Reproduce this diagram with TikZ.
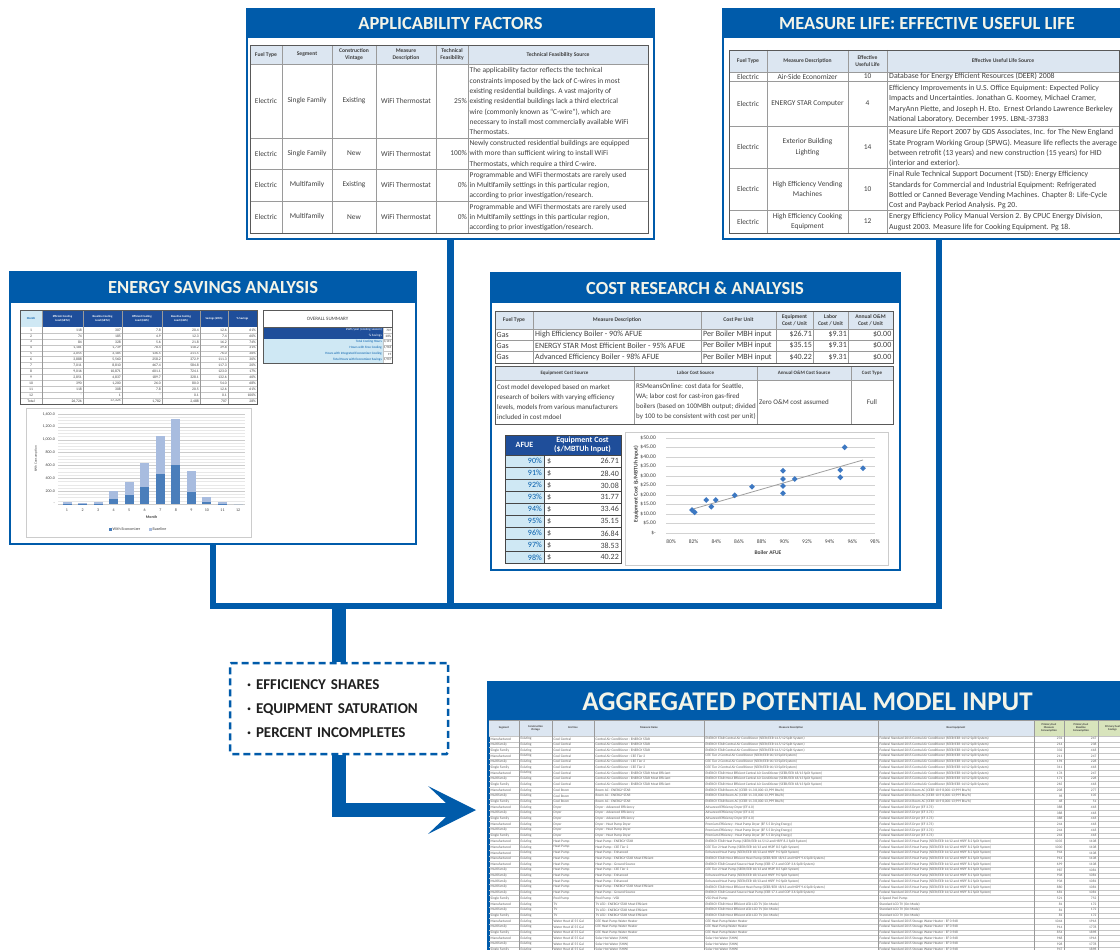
\documentclass[tikz,border=0pt]{standalone}
\usepackage{fontspec}
\setmainfont{Carlito}
\usetikzlibrary{calc,shapes.geometric}
\definecolor{mainblue}{HTML}{005BAA}
\definecolor{hdrlight}{HTML}{DCE6F1}
\definecolor{cellblue}{HTML}{1F4E9A}
\definecolor{cellcyan}{HTML}{CFE8F4}
\definecolor{hdrgreen}{HTML}{D8E4BC}
\definecolor{titlecream}{HTML}{F4F4E8}
\definecolor{gridgray}{HTML}{9A9A9A}
\definecolor{txtgray}{HTML}{404040}
\definecolor{bardark}{HTML}{4A7EBB}
\definecolor{barlight}{HTML}{A8BCDF}
\definecolor{ptblue}{HTML}{3D78C2}
\newcommand\fs[2]{\fontsize{#1}{#2}\selectfont}
\tikzset{
  panel/.style={draw=mainblue, line width=2pt, fill=white, inner sep=0pt, anchor=north west},
  ptitle/.style={text=titlecream, font=\fs{18.5}{20}\bfseries, inner sep=0pt},
  conn/.style={draw=mainblue, line width=6.5pt, line join=miter},
  bigconn/.style={draw=mainblue, line width=14pt, line join=miter},
  tgrid/.style={draw=gridgray, line width=0.5pt},
  tlight/.style={draw=gray!45, line width=0.35pt},
  tframe/.style={draw=gray!70!black, line width=0.8pt},
  hdr/.style={font=\fs{5.6}{6.6}\bfseries, text=txtgray, align=center, inner sep=0pt},
  body/.style={font=\fs{7.4}{10.3}, text=txtgray, inner sep=0pt, align=left},
  bodyc/.style={body, align=center},
  mlbody/.style={body, font=\fs{7.8}{10.3}},
  dbox/.style={draw=mainblue, line width=2.5pt, dash pattern=on 7pt off 4pt, fill=white, rounded corners=1.5pt, minimum height=91pt, inner xsep=17pt, inner ysep=0pt, text width=184pt, align=left, font=\fs{15}{24}\bfseries, text=black!88},
  eshdr/.style={font=\fs{2.9}{3.4}\bfseries, text=white, align=center, inner sep=0pt},
  escell/.style={font=\fs{3.7}{4}, text=txtgray, inner sep=0pt},
  gcell/.style={font=\fs{3.5}{4}, text=txtgray!85, inner sep=0pt},
  ghdr/.style={font=\fs{2.8}{3.2}\bfseries, text=txtgray, align=center, inner sep=0pt},
  axl/.style={font=\fs{5.5}{6}, text=txtgray, inner sep=0pt},
  esaxl/.style={font=\fs{4}{4.5}, text=txtgray, inner sep=0pt},
  cpmark/.style={diamond, fill=ptblue, inner sep=0pt, minimum size=6pt},
}
\newcommand\aggrow[8]{%
  \pgfmathsetmacro\ay{736+(#1-0.5)*5.7}%
  \node[gcell, anchor=west] (g#1a) at (490.5,\ay) {#2};
  \node[gcell, anchor=west] (g#1b) at (520.5,\ay) {Existing};
  \node[gcell, anchor=west] (g#1c) at (553.5,\ay) {#3};
  \node[gcell, anchor=west] (g#1d) at (595.5,\ay) {#4};
  \node[gcell, anchor=west] (g#1e) at (705.5,\ay) {#5};
  \node[gcell, anchor=west] (g#1f) at (879.5,\ay) {#6};
  \node[gcell, anchor=east] (g#1g) at (1062.5,\ay) {#7};
  \node[gcell, anchor=east] (g#1h) at (1096.5,\ay) {#8};
}
\begin{document}
\begin{tikzpicture}[x=1pt,y=-1pt]
\useasboundingbox (0,0) rectangle (1120,950);
\fill[white] (0,0) rectangle (1120,950);

% ================= APPLICABILITY FACTORS =================
\node[panel, minimum width=407pt, minimum height=230pt] (app) at (246,8) {};
\fill[mainblue] (app.north west) rectangle ($(app.north east)+(0,30)$);
\node[ptitle] (appt) at ($(app.north)+(0,15.5)$) {APPLICABILITY FACTORS};
\fill[hdrlight] (250,45) rectangle (648,64);
\foreach \x in {282,332,376,436,468} \draw[tgrid] (\x,45) -- (\x,233);
\foreach \y in {64,138,169,201} \draw[tgrid] (250,\y) -- (648,\y);
\draw[tframe] (250,45) rectangle (648,233);
\node[hdr] (ah1) at (266,54.5) {Fuel Type};
\node[hdr] (ah2) at (307,54.5) {Segment};
\node[hdr] (ah3) at (354,54.5) {Construction\\Vintage};
\node[hdr] (ah4) at (406,54.5) {Measure\\Description};
\node[hdr] (ah5) at (452,54.5) {Technical\\Feasibility};
\node[hdr] (ah6) at (558,54.5) {Technical Feasibility Source};
\foreach \r/\y/\s/\v/\p in {1/101/Single Family/Existing/25\%, 2/153.5/Single Family/New/100\%, 3/185/Multifamily/Existing/0\%, 4/217/Multifamily/New/0\%}{
  \node[body] (a\r-1) at (266,\y) {Electric};
  \node[body] (a\r-2) at (307,\y) {\s};
  \node[body] (a\r-3) at (354,\y) {\v};
  \node[body] (a\r-4) at (406,\y) {WiFi Thermostat};
  \node[body, anchor=east] (a\r-5) at (467,\y) {\p};
}
\node[body, anchor=west] (a1-6) at (469.5,101.3) {The applicability factor reflects the technical\\constraints imposed by the lack of C-wires in most\\existing residential buildings. A vast majority of\\existing residential buildings lack a third electrical\\wire (commonly known as ``C-wire''), which are\\necessary to install most commercially available WiFi\\Thermostats.};
\node[body, anchor=west] (a2-6) at (469.5,154) {Newly constructed residential buildings are equipped\\with more than sufficient wiring to install WiFi\\Thermostats, which require a third C-wire.};
\node[body, anchor=west] (a3-6) at (469.5,185.5) {Programmable and WiFi thermostats are rarely used\\in Multifamily settings in this particular region,\\according to prior investigation/research.};
\node[body, anchor=west] (a4-6) at (469.5,217.5) {Programmable and WiFi thermostats are rarely used\\in Multifamily settings in this particular region,\\according to prior investigation/research.};

% ================= MEASURE LIFE =================
\node[panel, minimum width=432pt, minimum height=230pt] (mlf) at (722,8) {};
\fill[mainblue] (mlf.north west) rectangle ($(mlf.north east)+(0,30)$);
\node[ptitle] (mlft) at (927,23.5) {MEASURE LIFE: EFFECTIVE USEFUL LIFE};
\fill[hdrlight] (729,50) rectangle (1119,72);
\foreach \x in {767,848,887} \draw[tgrid] (\x,50) -- (\x,233);
\foreach \y in {72,81,126,168,210} \draw[tgrid] (729,\y) -- (1119,\y);
\draw[tframe] (729,50) rectangle (1119,233);
\node[hdr] (mh1) at (748,61) {Fuel Type};
\node[hdr] (mh2) at (807.5,61) {Measure Description};
\node[hdr] (mh3) at (867.5,61) {Effective\\Useful Life};
\node[hdr] (mh4) at (1003,61) {Effective Useful Life Source};
\foreach \r/\y/\d/\n in {1/76.5/{Air-Side Economizer}/10, 2/103.5/{ENERGY STAR Computer}/4, 3/147/{Exterior Building\\Lighting}/14, 4/189/{High Efficiency Vending\\Machines}/10, 5/221.5/{High Efficiency Cooking\\Equipment}/12}{
  \node[body] (m\r-1) at (748,\y) {Electric};
  \node[bodyc] (m\r-2) at (807.5,\y) {\d};
  \node[body] (m\r-3) at (867.5,\y) {\n};
}
\node[mlbody, anchor=west] (m1-4) at (889,76.5) {Database for Energy Efficient Resources (DEER) 2008};
\node[mlbody, anchor=west] (m2-4) at (889,104) {Efficiency Improvements in U.S. Office Equipment: Expected Policy\\Impacts and Uncertainties. Jonathan G. Koomey, Michael Cramer,\\MaryAnn Piette, and Joseph H. Eto.\ \ Ernest Orlando Lawrence Berkeley\\National Laboratory. December 1995. LBNL-37383};
\node[mlbody, anchor=west] (m3-4) at (889,148) {Measure Life Report 2007 by GDS Associates, Inc. for The New England\\State Program Working Group (SPWG). Measure life reflects the average\\between retrofit (13 years) and new construction (15 years) for HID\\(interior and exterior).};
\node[mlbody, anchor=west] (m4-4) at (889,190) {Final Rule Technical Support Document (TSD): Energy Efficiency\\Standards for Commercial and Industrial Equipment: Refrigerated\\Bottled or Canned Beverage Vending Machines. Chapter 8: Life-Cycle\\Cost and Payback Period Analysis. Pg 20.};
\node[mlbody, anchor=west] (m5-4) at (889,222) {Energy Efficiency Policy Manual Version 2. By CPUC Energy Division,\\August 2003. Measure life for Cooking Equipment. Pg 18.};

% ================= ENERGY SAVINGS ANALYSIS =================
\node[panel, minimum width=406pt, minimum height=272pt] (es) at (9,271) {};
\fill[mainblue] (es.north west) rectangle ($(es.north east)+(0,32)$);
\node[ptitle] (est) at (213,287.5) {ENERGY SAVINGS ANALYSIS};
\fill[cellcyan] (20,310) rectangle (42,327);
\fill[cellblue] (42,310) rectangle (257,327);
\node[eshdr, text=mainblue] (esh1) at (31,318.5) {Month};
\foreach \i/\x/\t in {2/62.5/{Efficient Cooling\\Load (kBTU)}, 3/102.5/{Baseline Cooling\\Load (kBTU)}, 4/142/{Efficient Cooling\\Load (kWh)}, 5/181/{Baseline Cooling\\Load (kWh)}, 6/214/{Savings (kWh)}, 7/242.5/{\% Savings}}
  \node[eshdr] (esh\i) at (\x,318.5) {\t};
\foreach \r/\m/\a/\b/\c/\d/\e/\f in {1/1/118/307/7.8/20.4/12.6/61\%, 2/2/74/185/4.9/12.3/7.4/60\%, 3/3/84/328/5.6/21.8/16.2/74\%, 4/4/{1,181}/{1,739}/78.4/118.2/39.8/31\%, 5/5/{2,055}/{3,185}/136.5/211.5/76.0/36\%, 6/6/{3,888}/{5,560}/258.2/372.9/111.3/30\%, 7/7/{7,011}/{8,810}/467.4/584.8/117.3/20\%, 8/8/{9,016}/{10,871}/601.1/724.1/123.0/17\%, 9/9/{2,851}/{4,837}/189.7/328.1/132.6/40\%, 10/10/390/{1,200}/26.0/80.0/54.0/68\%, 11/11/118/308/7.8/20.5/12.6/61\%, 12/12/-/1/-/0.1/0.1/100\%, 13/Total/{26,726}/{37,325}/{1,782}/{2,488}/707/28\%}{
  \pgfmathsetmacro\ey{327+(\r-0.5)*5.92}
  \node[escell] (es\r-m) at (31,\ey) {\m};
  \node[escell, anchor=east] (es\r-a) at (82,\ey) {\a};
  \node[escell, anchor=east] (es\r-b) at (121,\ey) {\b};
  \node[escell, anchor=east] (es\r-c) at (161,\ey) {\c};
  \node[escell, anchor=east] (es\r-d) at (199,\ey) {\d};
  \node[escell, anchor=east] (es\r-e) at (227,\ey) {\e};
  \node[escell, anchor=east] (es\r-f) at (256,\ey) {\f};
}
\foreach \k in {1,...,12} \draw[tlight] (20,{327+\k*5.92}) -- (257,{327+\k*5.92});
\foreach \x in {42,83,122,162,200,228} \draw[tgrid] (\x,310) -- (\x,404);
\draw[tframe] (20,310) rectangle (257,404);
% overall summary
\draw[tframe, fill=white] (263,310) rectangle (392,327);
\node[font=\fs{5}{6}, text=txtgray] (ost) at (327.5,318.5) {OVERALL SUMMARY};
\foreach \k/\t/\v/\fc/\tc in {1/{kWh/year (cooling season)}/707/cellblue/white, 2/{\% Savings}/28\%/cellblue/white, 3/{Total Cooling Hours}/{3,115}/cellcyan/mainblue, 4/{Hours with Free Cooling}/{1,918}/cellcyan/mainblue, 5/{Hours with Integrated Economizer Cooling}/19/cellcyan/mainblue, 6/{Total Hours with Economizer Savings}/{1,937}/cellcyan/mainblue}{
  \pgfmathsetmacro\oy{327+(\k-1)*6}
  \fill[\fc] (263,\oy) rectangle (383,{\oy+6});
  \draw[tlight, fill=white] (383,\oy) rectangle (392,{\oy+6});
  \node[font=\fs{3.3}{4}, text=\tc, anchor=east, inner sep=0pt] (os\k-a) at (382,{\oy+3}) {\t};
  \node[font=\fs{3.3}{4}, text=txtgray, anchor=east, inner sep=0pt] (os\k-b) at (391.5,{\oy+3}) {\v};
}
\draw[tframe] (263,327) rectangle (392,363);
% chart
\draw[gray!40, line width=0.8pt, fill=white] (26,408) rectangle (251,537);
\foreach \v in {0,50,...,1400} \draw[gray!18, line width=0.3pt] (58,{504-\v*0.0643}) -- (245,{504-\v*0.0643});
\foreach \v in {0,200,...,1400} \draw[gray!40, line width=0.4pt] (58,{504-\v*0.0643}) -- (245,{504-\v*0.0643});
\foreach \v/\t in {1400/{1,400.0},1200/{1,200.0},1000/{1,000.0},800/800.0,600/600.0,400/400.0,200/200.0,0/-}
  \node[esaxl, anchor=east] (ey\v) at (55,{504-\v*0.0643}) {\t};
\node[esaxl, rotate=90, font=\fs{3.4}{4}] (eyt) at (36,459) {kWh Consumption};
\foreach \i/\e/\b in {1/7.8/20.4, 2/4.9/12.3, 3/5.6/21.8, 4/78.4/118.2, 5/136.5/211.5, 6/258.2/372.9, 7/467.4/584.8, 8/601.1/724.1, 9/189.7/328.1, 10/26.0/80.0, 11/7.8/20.5, 12/0/0.1}{
  \pgfmathsetmacro\bx{67+(\i-1)*15.55}
  \fill[bardark] ({\bx-4.5},504) rectangle ({\bx+4.5},{504-\e*0.0643});
  \fill[barlight] ({\bx-4.5},{504-\e*0.0643}) rectangle ({\bx+4.5},{504-(\e+\b)*0.0643});
  \node[esaxl] (ex\i) at (\bx,510) {\i};
}
\node[esaxl, font=\fs{4}{4.5}\bfseries] (ext) at (151.5,517) {Month};
\fill[bardark] (108.5,527.5) rectangle ++(3,3);
\node[esaxl, anchor=west] (lg1) at (112.5,529) {With Economizer};
\fill[barlight] (148.5,527.5) rectangle ++(3,3);
\node[esaxl, anchor=west] (lg2) at (152.5,529) {Baseline};

% ================= COST RESEARCH =================
\node[panel, minimum width=409pt, minimum height=297pt] (cost) at (490,272) {};
\fill[mainblue] (cost.north west) rectangle ($(cost.north east)+(0,31)$);
\node[ptitle] (costt) at (695,288) {COST RESEARCH \& ANALYSIS};
\fill[hdrlight] (495,311) rectangle (893,329);
\foreach \x in {533,701,776,813,848} \draw[tgrid] (\x,311) -- (\x,363);
\foreach \y in {329,340,351} \draw[tgrid] (495,\y) -- (893,\y);
\draw[tframe] (495,311) rectangle (893,363);
\node[hdr] (ch1) at (514,320) {Fuel Type};
\node[hdr] (ch2) at (617,320) {Measure Description};
\node[hdr] (ch3) at (738.5,320) {Cost Per Unit};
\node[hdr] (ch4) at (794.5,320) {Equipment\\Cost / Unit};
\node[hdr] (ch5) at (830.5,320) {Labor\\Cost / Unit};
\node[hdr] (ch6) at (870.5,320) {Annual O\&M\\Cost / Unit};
\foreach \r/\y/\d/\e in {1/334.5/{High Efficiency Boiler - 90\% AFUE}/{\$26.71}, 2/345.5/{ENERGY STAR Most Efficient Boiler - 95\% AFUE}/{\$35.15}, 3/357/{Advanced Efficiency Boiler - 98\% AFUE}/{\$40.22}}{
  \node[body, font=\fs{8}{9}, anchor=west] (c\r-1) at (496.5,\y) {Gas};
  \node[body, font=\fs{8}{9}, anchor=west] (c\r-2) at (535,\y) {\d};
  \node[body, font=\fs{8}{9}, anchor=west] (c\r-3) at (703,\y) {Per Boiler MBH input};
  \node[body, font=\fs{8}{9}, anchor=east] (c\r-4) at (812,\y) {\e};
  \node[body, font=\fs{8}{9}, anchor=east] (c\r-5) at (847,\y) {\$9.31};
  \node[body, font=\fs{8}{9}, anchor=east] (c\r-6) at (891.5,\y) {\$0.00};
}
\fill[hdrlight] (495,366) rectangle (893,380);
\foreach \x in {634,757,851} \draw[tgrid] (\x,366) -- (\x,424);
\draw[tgrid] (495,380) -- (893,380);
\draw[tframe] (495,366) rectangle (893,424);
\node[hdr, font=\fs{5}{6}\bfseries] (cs1) at (564.5,373) {Equipment Cost Source};
\node[hdr, font=\fs{5}{6}\bfseries] (cs2) at (695.5,373) {Labor Cost Source};
\node[hdr, font=\fs{5}{6}\bfseries] (cs3) at (804,373) {Annual O\&M Cost Source};
\node[hdr, font=\fs{5}{6}\bfseries] (cs4) at (872,373) {Cost Type};
\node[body, font=\fs{7}{10}, anchor=west] (cb1) at (497,402) {Cost model developed based on market\\research of boilers with varying efficiency\\levels, models from various manufacturers\\included in cost mdoel};
\node[body, font=\fs{7}{10}, anchor=west] (cb2) at (636,402) {RSMeansOnline: cost data for Seattle,\\WA; labor cost for cast-iron gas-fired\\boilers (based on 100MBh output; divided\\by 100 to be consistent with cost per unit)};
\node[body, font=\fs{7}{10}, anchor=west] (cb3) at (759,402) {Zero O\&M cost assumed};
\node[body, font=\fs{7}{10}] (cb4) at (872,402) {Full};
% AFUE table
\fill[cellblue] (505,435) rectangle (621,455);
\node[font=\fs{8}{9}\bfseries, text=white, inner sep=0pt] (afh1) at (524.5,445) {AFUE};
\node[font=\fs{8}{9.5}\bfseries, text=white, align=center, inner sep=0pt] (afh2) at (582.5,445) {Equipment Cost\\(\$/MBTUh Input)};
\foreach \r/\p/\v in {1/90/26.71, 2/91/28.40, 3/92/30.08, 4/93/31.77, 5/94/33.46, 6/95/35.15, 7/96/36.84, 8/97/38.53, 9/98/40.22}{
  \pgfmathsetmacro\ty{455+(\r-1)*12}
  \fill[cellcyan] (505,\ty) rectangle (544,{\ty+12});
  \draw[draw=gray!55!black, line width=0.9pt] (505,\ty) rectangle (621,{\ty+12});
  \draw[draw=gray!55!black, line width=0.5pt] (544,\ty) -- (544,{\ty+12});
  \node[font=\fs{8}{9}, text=mainblue, anchor=east, inner sep=0pt] (af\r-a) at (542,{\ty+6.3}) {\p\%};
  \node[font=\fs{8}{9}, text=txtgray, anchor=west, inner sep=0pt] (af\r-b) at (547,{\ty+6.3}) {\$};
  \node[font=\fs{8}{9}, text=txtgray, anchor=east, inner sep=0pt] (af\r-c) at (619,{\ty+6.3}) {\v};
}
\draw[draw=gray!55!black, line width=0.9pt] (505,435) rectangle (621,563);
% scatter chart
\draw[gray!40, line width=0.8pt, fill=white] (625,432) rectangle (888,565);
\foreach \v in {0,5,...,50} \draw[gray!35, line width=0.4pt] (666,{533-\v*1.9}) -- (875,{533-\v*1.9});
\foreach \v/\t in {50/{\$50.00},45/{\$45.00},40/{\$40.00},35/{\$35.00},30/{\$30.00},25/{\$25.00},20/{\$20.00},15/{\$15.00},10/{\$10.00},5/{\$5.00},0/{\$-}}
  \node[axl, anchor=east] (cy\v) at (656,{533-\v*1.9}) {\t};
\foreach \p in {80,82,...,98}
  \node[axl] (cx\p) at ({671+(\p-80)*11.33},542) {\p\%};
\node[axl, font=\fs{5.5}{6}\bfseries, rotate=90] (cyt) at (636,484) {Equipment Cost (\$/MBTUh Input)};
\node[axl, font=\fs{5.5}{6}\bfseries] (cxt) at (768,552.5) {Boiler AFUE};
\draw[gray!75, line width=0.8pt] (692,509.3) -- (863,460);
\foreach \px/\py [count=\n] in {692/510, 694.7/512.3, 706.3/500, 711.3/506.7, 715.7/500, 734.7/495.3, 752/486.7, 783/470.7, 783/479, 783/486, 783/493.3, 794.7/479, 840.3/470, 840.3/477.3, 844.7/447.3, 863/468.3}
  \node[cpmark] (cp\n) at (\px,\py) {};

% ================= AGGREGATED POTENTIAL MODEL INPUT =================
\node[panel, minimum width=639pt, minimum height=290pt] (agg) at (488,681) {};
\fill[mainblue] (agg.north west) rectangle ($(agg.north east)+(0,39)$);
\node[ptitle, font=\fs{27}{28}\bfseries] (aggt) at (807.5,701.5) {AGGREGATED POTENTIAL MODEL INPUT};
\fill[hdrlight] (489,720) rectangle (1034,736);
\fill[hdrgreen] (1034,720) rectangle (1127,736);
\foreach \k in {0,...,39} \draw[tlight] (489,{736+\k*5.7}) -- (1127,{736+\k*5.7});
\foreach \x in {519,552,594,704,878,1034,1064,1098} \draw[tgrid] (\x,720) -- (\x,970);
\draw[tgrid] (489,720) -- (1127,720);
\node[ghdr] (gh1) at (504,728) {Segment};
\node[ghdr] (gh2) at (535.5,728) {Construction\\Vintage};
\node[ghdr] (gh3) at (573,728) {End Use};
\node[ghdr] (gh4) at (649,728) {Measure Name};
\node[ghdr] (gh5) at (791,728) {Measure Description};
\node[ghdr] (gh6) at (956,728) {Base Equipment};
\node[ghdr] (gh7) at (1049,728) {Primary Fuel\\Measure\\Consumption};
\node[ghdr] (gh8) at (1081,728) {Primary Fuel\\Baseline\\Consumption};
\node[ghdr] (gh9) at (1112.5,728) {Primary Fuel\\Savings};
\aggrow{1}{Manufactured}{Cool Central}{Central Air Conditioner - ENERGY STAR}{ENERGY STAR Central Air Conditioner (SEER/EER 14.5/12 Split System)}{Federal Standard 2015 Central Air Conditioner (SEER/EER 14/12 Split System)}{231}{247}
\aggrow{2}{Multifamily}{Cool Central}{Central Air Conditioner - ENERGY STAR}{ENERGY STAR Central Air Conditioner (SEER/EER 14.5/12 Split System)}{Federal Standard 2015 Central Air Conditioner (SEER/EER 14/12 Split System)}{214}{238}
\aggrow{3}{Single Family}{Cool Central}{Central Air Conditioner - ENERGY STAR}{ENERGY STAR Central Air Conditioner (SEER/EER 14.5/12 Split System)}{Federal Standard 2015 Central Air Conditioner (SEER/EER 14/12 Split System)}{332}{418}
\aggrow{4}{Manufactured}{Cool Central}{Central Air Conditioner - CEE Tier 2}{CEE Tier 2 Central Air Conditioner (SEER/EER 16/13 Split System)}{Federal Standard 2015 Central Air Conditioner (SEER/EER 14/12 Split System)}{211}{247}
\aggrow{5}{Multifamily}{Cool Central}{Central Air Conditioner - CEE Tier 2}{CEE Tier 2 Central Air Conditioner (SEER/EER 16/13 Split System)}{Federal Standard 2015 Central Air Conditioner (SEER/EER 14/12 Split System)}{194}{228}
\aggrow{6}{Single Family}{Cool Central}{Central Air Conditioner - CEE Tier 2}{CEE Tier 2 Central Air Conditioner (SEER/EER 16/13 Split System)}{Federal Standard 2015 Central Air Conditioner (SEER/EER 14/12 Split System)}{311}{418}
\aggrow{7}{Manufactured}{Cool Central}{Central Air Conditioner - ENERGY STAR Most Efficient}{ENERGY STAR Most Efficient Central Air Conditioner (SEER/EER 18/13 Split System)}{Federal Standard 2015 Central Air Conditioner (SEER/EER 14/12 Split System)}{176}{247}
\aggrow{8}{Multifamily}{Cool Central}{Central Air Conditioner - ENERGY STAR Most Efficient}{ENERGY STAR Most Efficient Central Air Conditioner (SEER/EER 18/13 Split System)}{Federal Standard 2015 Central Air Conditioner (SEER/EER 14/12 Split System)}{171}{228}
\aggrow{9}{Single Family}{Cool Central}{Central Air Conditioner - ENERGY STAR Most Efficient}{ENERGY STAR Most Efficient Central Air Conditioner (SEER/EER 18/13 Split System)}{Federal Standard 2015 Central Air Conditioner (SEER/EER 14/12 Split System)}{265}{418}
\aggrow{10}{Manufactured}{Cool Room}{Room AC - ENERGY STAR}{ENERGY STAR Room AC (CEER 11.3 8,000-13,999 Btu/h)}{Federal Standard 2014 Room AC (CEER 10.9 8,000-13,999 Btu/h)}{208}{277}
\aggrow{11}{Multifamily}{Cool Room}{Room AC - ENERGY STAR}{ENERGY STAR Room AC (CEER 11.3 8,000-13,999 Btu/h)}{Federal Standard 2014 Room AC (CEER 10.9 8,000-13,999 Btu/h)}{98}{105}
\aggrow{12}{Single Family}{Cool Room}{Room AC - ENERGY STAR}{ENERGY STAR Room AC (CEER 11.3 8,000-13,999 Btu/h)}{Federal Standard 2014 Room AC (CEER 10.9 8,000-13,999 Btu/h)}{48}{51}
\aggrow{13}{Manufactured}{Dryer}{Dryer - Advanced Efficiency}{Advanced Efficiency Dryer (EF 4.0)}{Federal Standard 2015 Dryer (EF 3.73)}{388}{418}
\aggrow{14}{Multifamily}{Dryer}{Dryer - Advanced Efficiency}{Advanced Efficiency Dryer (EF 4.0)}{Federal Standard 2015 Dryer (EF 3.73)}{388}{418}
\aggrow{15}{Single Family}{Dryer}{Dryer - Advanced Efficiency}{Advanced Efficiency Dryer (EF 4.0)}{Federal Standard 2015 Dryer (EF 3.73)}{388}{418}
\aggrow{16}{Manufactured}{Dryer}{Dryer - Heat Pump Dryer}{Premium Efficiency - Heat Pump Dryer (EF 5.5 Drying Energy)}{Federal Standard 2015 Dryer (EF 3.73)}{244}{418}
\aggrow{17}{Multifamily}{Dryer}{Dryer - Heat Pump Dryer}{Premium Efficiency - Heat Pump Dryer (EF 5.5 Drying Energy)}{Federal Standard 2015 Dryer (EF 3.73)}{244}{418}
\aggrow{18}{Single Family}{Dryer}{Dryer - Heat Pump Dryer}{Premium Efficiency - Heat Pump Dryer (EF 5.5 Drying Energy)}{Federal Standard 2015 Dryer (EF 3.73)}{244}{418}
\aggrow{19}{Manufactured}{Heat Pump}{Heat Pump - ENERGY STAR}{ENERGY STAR Heat Pump (SEER/EER 14.5/12 and HSPF 8.2 Split System)}{Federal Standard 2015 Heat Pump (SEER/EER 14/12 and HSPF 8.2 Split System)}{1035}{1108}
\aggrow{20}{Manufactured}{Heat Pump}{Heat Pump - CEE Tier 2}{CEE Tier 2 Heat Pump (SEER/EER 16/13 and HSPF 8.5 Split System)}{Federal Standard 2015 Heat Pump (SEER/EER 14/12 and HSPF 8.2 Split System)}{1000}{1108}
\aggrow{21}{Manufactured}{Heat Pump}{Heat Pump - Enhanced}{Enhanced Heat Pump (SEER/EER 18/13 and HSPF 9.0 Split System)}{Federal Standard 2015 Heat Pump (SEER/EER 14/12 and HSPF 8.2 Split System)}{944}{1108}
\aggrow{22}{Manufactured}{Heat Pump}{Heat Pump - ENERGY STAR Most Efficient}{ENERGY STAR Most Efficient Heat Pump (SEER/EER 18/13 and HSPF 9.6 Split System)}{Federal Standard 2015 Heat Pump (SEER/EER 14/12 and HSPF 8.2 Split System)}{914}{1108}
\aggrow{23}{Manufactured}{Heat Pump}{Heat Pump - Ground Source}{ENERGY STAR Ground Source Heat Pump (EER 17.1 and COP 3.6 Split System)}{Federal Standard 2015 Heat Pump (SEER/EER 14/12 and HSPF 8.2 Split System)}{699}{1108}
\aggrow{24}{Multifamily}{Heat Pump}{Heat Pump - CEE Tier 2}{CEE Tier 2 Heat Pump (SEER/EER 16/13 and HSPF 8.5 Split System)}{Federal Standard 2015 Heat Pump (SEER/EER 14/12 and HSPF 8.2 Split System)}{987}{1081}
\aggrow{25}{Multifamily}{Heat Pump}{Heat Pump - Enhanced}{Enhanced Heat Pump (SEER/EER 18/13 and HSPF 9.0 Split System)}{Federal Standard 2015 Heat Pump (SEER/EER 14/12 and HSPF 8.2 Split System)}{936}{1081}
\aggrow{26}{Multifamily}{Heat Pump}{Heat Pump - Enhanced}{Enhanced Heat Pump (SEER/EER 18/13 and HSPF 9.0 Split System)}{Federal Standard 2015 Heat Pump (SEER/EER 14/12 and HSPF 8.2 Split System)}{936}{1081}
\aggrow{27}{Multifamily}{Heat Pump}{Heat Pump - ENERGY STAR Most Efficient}{ENERGY STAR Most Efficient Heat Pump (SEER/EER 18/13 and HSPF 9.6 Split System)}{Federal Standard 2015 Heat Pump (SEER/EER 14/12 and HSPF 8.2 Split System)}{880}{1081}
\aggrow{28}{Multifamily}{Heat Pump}{Heat Pump - Ground Source}{ENERGY STAR Ground Source Heat Pump (EER 17.1 and COP 3.6 Split System)}{Federal Standard 2015 Heat Pump (SEER/EER 14/12 and HSPF 8.2 Split System)}{681}{1081}
\aggrow{29}{Single Family}{Pool Pump}{Pool Pump - VSD}{VSD Pool Pump}{2-Speed Pool Pump}{521}{752}
\aggrow{30}{Manufactured}{TV}{TV LED - ENERGY STAR Most Efficient}{ENERGY STAR Most Efficient LED-LCD TV (On-Mode)}{Standard LCD TV (On-Mode)}{81}{172}
\aggrow{31}{Multifamily}{TV}{TV LED - ENERGY STAR Most Efficient}{ENERGY STAR Most Efficient LED-LCD TV (On-Mode)}{Standard LCD TV (On-Mode)}{81}{172}
\aggrow{32}{Single Family}{TV}{TV LED - ENERGY STAR Most Efficient}{ENERGY STAR Most Efficient LED-LCD TV (On-Mode)}{Standard LCD TV (On-Mode)}{81}{172}
\aggrow{33}{Manufactured}{Water Heat LE 55 Gal}{CEE Heat Pump Water Heater}{CEE Heat Pump Water Heater}{Federal Standard 2015 Storage Water Heater - EF 0.948}{1044}{1916}
\aggrow{34}{Multifamily}{Water Heat LE 55 Gal}{CEE Heat Pump Water Heater}{CEE Heat Pump Water Heater}{Federal Standard 2015 Storage Water Heater - EF 0.948}{914}{1778}
\aggrow{35}{Single Family}{Water Heat LE 55 Gal}{CEE Heat Pump Water Heater}{CEE Heat Pump Water Heater}{Federal Standard 2015 Storage Water Heater - EF 0.948}{854}{1898}
\aggrow{36}{Manufactured}{Water Heat LE 55 Gal}{Solar Hot Water (SHW)}{Solar Hot Water (SHW)}{Federal Standard 2015 Storage Water Heater - EF 0.948}{968}{1916}
\aggrow{37}{Multifamily}{Water Heat LE 55 Gal}{Solar Hot Water (SHW)}{Solar Hot Water (SHW)}{Federal Standard 2015 Storage Water Heater - EF 0.948}{928}{1778}
\aggrow{38}{Single Family}{Water Heat LE 55 Gal}{Solar Hot Water (SHW)}{Solar Hot Water (SHW)}{Federal Standard 2015 Storage Water Heater - EF 0.948}{947}{1898}
\draw[mainblue, line width=2pt] (agg.north west) -- (agg.south west);

% ================= CONNECTORS =================
\coordinate (bus) at (0,606);
\draw[conn] (es.south) |- (bus -| mlf.south) -- (mlf.south);
\draw[conn] (app.south) -- (app.south |- bus);
\node[dbox] (lst) at (339,708.5) {· EFFICIENCY SHARES\\· EQUIPMENT SATURATION\\· PERCENT INCOMPLETES};
\draw[bigconn] (bus -| lst.north) -- (lst.north);
\coordinate (arrbase) at (450,810);
\coordinate (arrtip) at (476,810);
\draw[bigconn] (lst.south) |- (arrbase);
\fill[mainblue] (arrtip) -- ++(-48,-24) -- ++(18,17) -- ++(0,14) -- ++(-18,17) -- cycle;
\end{tikzpicture}
\end{document}
